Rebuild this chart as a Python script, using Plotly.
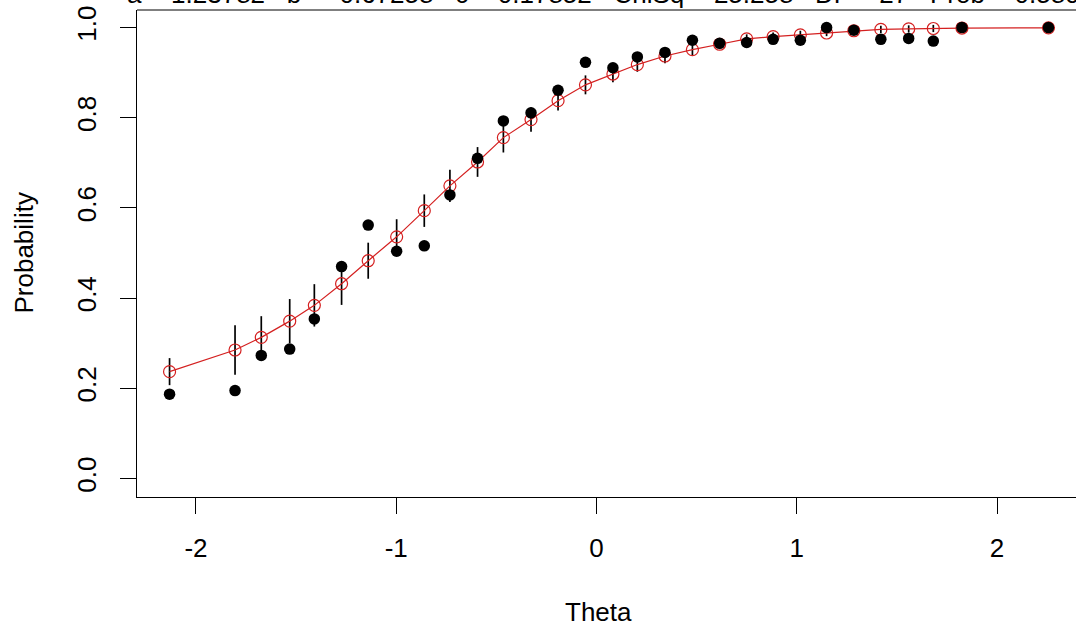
import plotly.graph_objects as go

# ---- data ----
theta = [-2.132, -1.805, -1.674, -1.532, -1.409, -1.273, -1.140, -0.998, -0.860, -0.732,
         -0.594, -0.465, -0.327, -0.192, -0.055, 0.082, 0.204, 0.342, 0.479, 0.615,
         0.750, 0.882, 1.018, 1.149, 1.285, 1.420, 1.559, 1.682, 1.825, 2.257]
model = [0.237, 0.285, 0.313, 0.349, 0.384, 0.432, 0.483, 0.536, 0.594, 0.649,
         0.702, 0.756, 0.796, 0.838, 0.873, 0.897, 0.918, 0.937, 0.951, 0.963,
         0.975, 0.980, 0.984, 0.988, 0.993, 0.996, 0.997, 0.998, 0.999, 0.9995]
observed = [0.187, 0.195, 0.273, 0.287, 0.354, 0.470, 0.562, 0.504, 0.516, 0.629,
            0.710, 0.793, 0.811, 0.861, 0.923, 0.911, 0.935, 0.945, 0.972, 0.965,
            0.967, 0.974, 0.972, 1.000, 0.994, 0.974, 0.976, 0.970, 1.000, 1.000]
err = [0.030, 0.055, 0.047, 0.049, 0.047, 0.047, 0.040, 0.039, 0.036, 0.036,
       0.033, 0.033, 0.027, 0.022, 0.021, 0.018, 0.016, 0.016, 0.014, 0.011,
       0.010, 0.009, 0.009, 0.007, 0.005, 0.008, 0.008, 0.008, 0.003, 0.001]
x_ticks = [-2, -1, 0, 1, 2]
x_tick_labels = ["-2", "-1", "0", "1", "2"]
y_ticks = [0.0, 0.2, 0.4, 0.6, 0.8, 1.0]
y_tick_labels = ["0.0", "0.2", "0.4", "0.6", "0.8", "1.0"]
title_text = "a = 1.23782   b = -0.67258   c = 0.17852   ChiSq = 25.258   DF = 27   Prob = 0.5801"

FONT = "Arial, Liberation Sans, sans-serif"
RED = "#d42020"

fig = go.Figure()
fig.add_trace(go.Scatter(
    x=theta, y=model, mode="lines+markers",
    line=dict(color=RED, width=1.2),
    marker=dict(symbol="circle-open", size=12, color=RED, line=dict(width=1.2, color=RED)),
    error_y=dict(type="data", array=err, visible=True, width=0, thickness=1.7, color="black"),
    showlegend=False, hoverinfo="skip"))
fig.add_trace(go.Scatter(
    x=theta, y=observed, mode="markers",
    marker=dict(symbol="circle", size=11.5, color="black"),
    showlegend=False, hoverinfo="skip"))

fig.update_layout(
    template="none",
    width=1076, height=635, autosize=False,
    margin=dict(l=137, r=0, t=10, b=138, pad=0),
    paper_bgcolor="white", plot_bgcolor="white",
    font=dict(family=FONT, size=26, color="black"),
    xaxis=dict(range=[-2.2946, 2.3945], tickvals=x_ticks, ticktext=x_tick_labels,
               ticks="outside", ticklen=16, automargin=False,
               tickwidth=1, tickcolor="black", showline=True, linecolor="black", linewidth=1,
               showgrid=False, zeroline=False, ticklabelstandoff=12,
               tickfont=dict(size=26, family=FONT)),
    yaxis=dict(range=[-0.041, 1.039], tickvals=y_ticks, ticktext=y_tick_labels,
               ticks="outside", automargin=False,
               ticklen=16, tickwidth=1, tickcolor="black", showline=True, linecolor="black",
               linewidth=1, showgrid=False, zeroline=False, tickangle=-90,
               ticklabelstandoff=14, tickfont=dict(size=26, family=FONT)),
)
# top border of the box
fig.add_shape(type="line", xref="paper", yref="paper", x0=0, x1=1.02, y0=1, y1=1,
              line=dict(color="black", width=1))
fig.add_annotation(text="Theta", xref="paper", yref="paper", x=0.491, y=-0.236,
                   showarrow=False, xanchor="center", yanchor="middle",
                   font=dict(size=26, family=FONT))
fig.add_annotation(text="Probability", xref="paper", yref="paper", x=-0.1214, y=0.5,
                   showarrow=False, xanchor="center", yanchor="middle", textangle=-90,
                   font=dict(size=26, family=FONT))
fig.add_annotation(text=title_text, xref="paper", yref="paper", x=0.504, y=0.9985,
                   showarrow=False, xanchor="center", yanchor="bottom",
                   font=dict(size=26, family=FONT))

fig.write_html("out.html", config={"displayModeBar": False},
               post_script="document.body.style.margin='0';document.body.style.overflow='hidden';")
